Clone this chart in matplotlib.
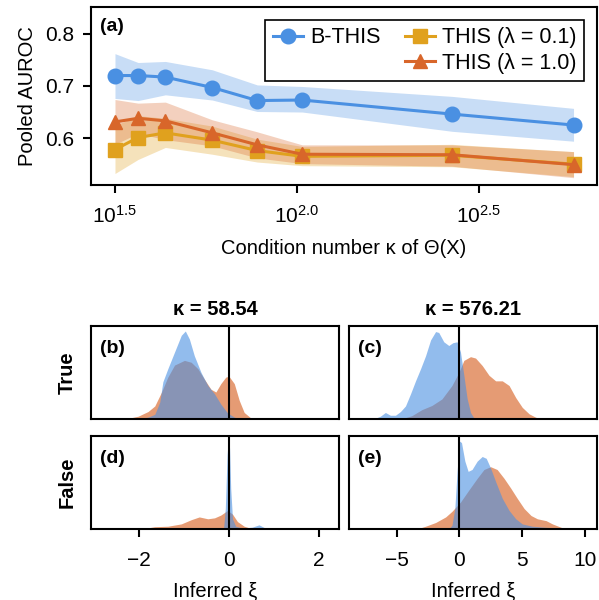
import numpy as np
import matplotlib
matplotlib.use("Agg")
import matplotlib.pyplot as plt
from matplotlib.lines import Line2D

plt.rcParams['font.family'] = ['Liberation Sans', 'DejaVu Sans']
plt.rcParams['mathtext.fontset'] = 'custom'
plt.rcParams['mathtext.rm'] = 'Liberation Sans'
plt.rcParams['mathtext.it'] = 'Liberation Sans:italic'
plt.rcParams['font.size'] = 14.5

# --- panel (a): pooled AUROC vs condition number
kappa = [31.62, 36.6, 43.5, 58.54, 77.8, 103.4, 267.0, 576.21]
bthis_mean = [0.720, 0.720, 0.717, 0.697, 0.672, 0.673, 0.646, 0.625]
bthis_lo = [0.676, 0.672, 0.683, 0.673, 0.651, 0.650, 0.613, 0.594]
bthis_hi = [0.762, 0.745, 0.747, 0.731, 0.702, 0.699, 0.680, 0.657]
this01_mean = [0.578, 0.601, 0.610, 0.596, 0.576, 0.565, 0.567, 0.550]
this01_lo = [0.532, 0.559, 0.582, 0.569, 0.554, 0.547, 0.545, 0.526]
this01_hi = [0.624, 0.643, 0.638, 0.623, 0.598, 0.584, 0.588, 0.574]
this10_mean = [0.631, 0.638, 0.633, 0.610, 0.587, 0.569, 0.568, 0.549]
this10_lo = [0.588, 0.609, 0.597, 0.585, 0.562, 0.551, 0.546, 0.524]
this10_hi = [0.674, 0.667, 0.669, 0.635, 0.612, 0.587, 0.587, 0.574]

# --- panels (b)-(e): densities of inferred xi
b_blue_x = [-2.0, -1.8, -1.65, -1.54, -1.47, -1.36, -1.21, -1.06, -0.97, -0.88, -0.77, -0.62, -0.47, -0.32, -0.18, -0.03, 0.12, 0.23]
b_blue_y = [0.0, 0.02, 0.05, 0.18, 0.40, 0.54, 0.72, 0.90, 0.946, 0.86, 0.68, 0.50, 0.36, 0.27, 0.16, 0.065, 0.02, 0.0]
b_orange_x = [-2.3, -2.02, -1.8, -1.65, -1.5, -1.36, -1.21, -0.99, -0.84, -0.69, -0.55, -0.4, -0.29, -0.18, -0.07, 0.0, 0.12, 0.23, 0.34, 0.49, 0.56]
b_orange_y = [0.0, 0.03, 0.08, 0.14, 0.29, 0.45, 0.58, 0.63, 0.61, 0.54, 0.43, 0.32, 0.29, 0.38, 0.45, 0.46, 0.38, 0.20, 0.07, 0.01, 0.0]

c_blue_x = [-6.85, -6.3, -5.9, -5.5, -5.1, -4.7, -4.3, -3.9, -3.5, -3.1, -2.7, -2.3, -1.9, -1.65, -1.25, -0.85, -0.53, -0.19, 0.08, 0.35, 0.61, 0.88, 1.15, 1.4]
c_blue_y = [0.0, 0.03, 0.07, 0.04, 0.04, 0.08, 0.14, 0.27, 0.41, 0.54, 0.68, 0.85, 0.94, 0.93, 0.83, 0.79, 0.82, 0.83, 0.72, 0.47, 0.22, 0.07, 0.01, 0.0]
c_orange_x = [-5.4, -4.3, -3.8, -3.0, -2.2, -1.4, -0.6, -0.05, 0.35, 0.88, 1.28, 1.81, 2.35, 2.88, 3.41, 3.95, 4.48, 5.0, 5.55, 6.08, 6.6]
c_orange_y = [0.0, 0.015, 0.035, 0.10, 0.145, 0.215, 0.36, 0.50, 0.63, 0.67, 0.655, 0.575, 0.47, 0.41, 0.41, 0.36, 0.23, 0.125, 0.055, 0.018, 0.0]

d_blue_x = [-0.21, -0.12, -0.08, -0.04, -0.015, 0.015, 0.04, 0.08, 0.15, 0.3, 0.52, 0.67, 0.85]
d_blue_y = [0.0, 0.0, 0.22, 0.80, 0.96, 0.87, 0.44, 0.11, 0.03, 0.01, 0.02, 0.045, 0.0]
d_orange_x = [-1.95, -1.65, -1.36, -1.06, -0.84, -0.66, -0.47, -0.32, -0.18, -0.03, 0.08, 0.19, 0.34, 0.49, 0.62]
d_orange_y = [0.0, 0.025, 0.03, 0.055, 0.10, 0.13, 0.11, 0.12, 0.15, 0.20, 0.16, 0.08, 0.03, 0.007, 0.0]

e_blue_x = [-0.85, -0.6, -0.37, -0.19, 0.0, 0.16, 0.43, 0.69, 1.0, 1.41, 1.81, 2.13, 2.48, 2.88, 3.41, 3.95, 4.48, 5.0, 5.8, 6.9, 7.95, 8.6]
e_blue_y = [0.0, 0.04, 0.22, 0.62, 0.945, 0.93, 0.73, 0.62, 0.64, 0.73, 0.78, 0.76, 0.655, 0.51, 0.33, 0.20, 0.11, 0.055, 0.03, 0.018, 0.01, 0.0]
e_orange_x = [-3.4, -2.7, -1.9, -1.1, -0.6, 0.08, 0.75, 1.41, 1.95, 2.48, 3.0, 3.55, 4.08, 4.6, 5.15, 5.7, 6.2, 6.9, 7.4, 8.1, 8.6]
e_orange_y = [0.0, 0.03, 0.07, 0.13, 0.19, 0.29, 0.42, 0.545, 0.64, 0.67, 0.64, 0.545, 0.44, 0.33, 0.22, 0.145, 0.11, 0.09, 0.055, 0.018, 0.0]

blue = '#4A90E2'
gold = '#E0A11E'
orange = '#D8662A'

fig = plt.figure(figsize=(5.99, 6.0), dpi=100)

# ---- top panel
ax = fig.add_axes([0.1519, 0.6917, 0.8447, 0.2962])
ax.fill_between(kappa, this01_lo, this01_hi, color=gold, alpha=0.3, lw=0)
ax.fill_between(kappa, this10_lo, this10_hi, color=orange, alpha=0.3, lw=0)
ax.fill_between(kappa, bthis_lo, bthis_hi, color=blue, alpha=0.3, lw=0)
l01, = ax.plot(kappa, this01_mean, '-s', color=gold, lw=2.2, ms=9.5)
l10, = ax.plot(kappa, this10_mean, '-^', color=orange, lw=2.2, ms=10.5)
lb, = ax.plot(kappa, bthis_mean, '-o', color=blue, lw=2.2, ms=10.5)
ax.set_xscale('log')
ax.set_xlim(10**1.434, 10**2.825)
ax.set_ylim(0.51, 0.851)
ax.set_xticks([10**1.5, 10**2.0, 10**2.5])
ax.set_xticklabels(['$10^{1.5}$', '$10^{2.0}$', '$10^{2.5}$'])
ax.minorticks_off()
ax.set_yticks([0.6, 0.7, 0.8])
ax.set_xlabel('Condition number κ of Θ(X)', labelpad=9)
ax.set_ylabel('Pooled AUROC', labelpad=6)
ax.text(0.018, 0.94, '(a)', transform=ax.transAxes, va='top', fontweight='bold', fontsize=14)
blank = Line2D([], [], linestyle='none', marker='none')
leg = ax.legend([lb, blank, l01, l10], ['B-THIS', '', 'THIS (λ = 0.1)', 'THIS (λ = 1.0)'],
                ncol=2, loc='upper right', bbox_to_anchor=(0.975, 0.93), borderaxespad=0,
                fancybox=False, edgecolor='black', framealpha=1, handlelength=1.4,
                columnspacing=1.1, handletextpad=0.35, borderpad=0.35, labelspacing=0.2,
                fontsize=15.5)
leg.get_frame().set_linewidth(1.2)

for s in ax.spines.values():
    s.set_linewidth(1.5)
ax.tick_params(width=1.5, length=6, pad=8, labelsize=15)
ax.tick_params(axis='y', pad=6)

# ---- bottom panels
panels = {
    'b': ([0.1519, 0.3017, 0.414, 0.155], b_blue_x, b_blue_y, b_orange_x, b_orange_y),
    'c': ([0.5826, 0.3017, 0.414, 0.155], c_blue_x, c_blue_y, c_orange_x, c_orange_y),
    'd': ([0.1519, 0.1183, 0.414, 0.155], d_blue_x, d_blue_y, d_orange_x, d_orange_y),
    'e': ([0.5826, 0.1183, 0.414, 0.155], e_blue_x, e_blue_y, e_orange_x, e_orange_y),
}
xlims = {'b': (-3.07, 2.45), 'd': (-3.07, 2.45), 'c': (-8.8, 10.95), 'e': (-8.8, 10.95)}

for key, (rect, bx, by, ox, oy) in panels.items():
    a = fig.add_axes(rect)
    a.fill_between(ox, 0, oy, color=orange, alpha=0.65, lw=0)
    a.fill_between(bx, 0, by, color=blue, alpha=0.6, lw=0)
    a.axvline(0, color='black', lw=1.5)
    a.set_xlim(*xlims[key])
    a.set_ylim(0, 1.0)
    a.set_yticks([])
    for s in a.spines.values():
        s.set_linewidth(1.5)
    a.text(0.035, 0.85, f'({key})', transform=a.transAxes, va='top', fontweight='bold', fontsize=14)
    if key in ('b', 'c'):
        a.set_xticks([])
    else:
        a.tick_params(width=1.5, length=6, pad=10, labelsize=15)
        a.set_xlabel('Inferred ξ', labelpad=8)
    if key == 'b':
        a.set_title('κ = 58.54', fontweight='bold', fontsize=14.5, pad=8)
        a.set_ylabel('True', fontweight='bold', fontsize=14.5, labelpad=10)
    if key == 'c':
        a.set_title('κ = 576.21', fontweight='bold', fontsize=14.5, pad=8)
    if key == 'd':
        a.set_xticks([-2, 0, 2])
        a.set_xticklabels(['−2', '0', '2'])
        a.set_ylabel('False', fontweight='bold', fontsize=14.5, labelpad=10)
    if key == 'e':
        a.set_xticks([-5, 0, 5, 10])
        a.set_xticklabels(['−5', '0', '5', '10'])

fig.savefig('out.png', dpi=100)
